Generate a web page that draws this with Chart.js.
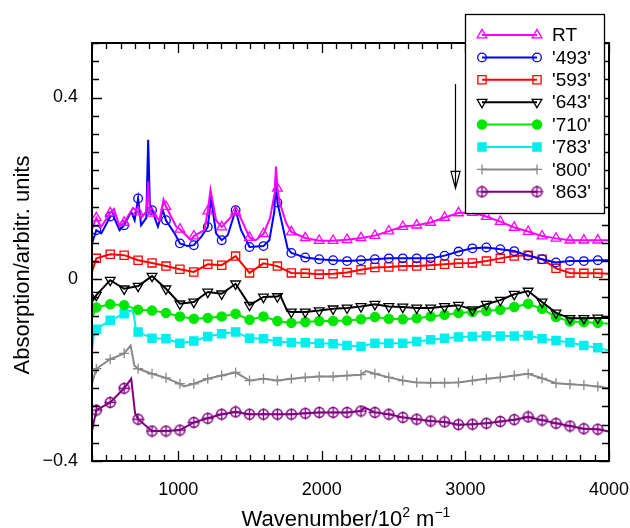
<!DOCTYPE html>
<html>
<head>
<meta charset="utf-8">
<script src="https://cdn.jsdelivr.net/npm/chart.js@4.4.0/dist/chart.umd.min.js"></script>
<style>
  html, body { margin: 0; padding: 0; background: #fff; }
  #wrap { width: 630px; height: 528px; }
</style>
</head>
<body>
<div id="wrap"><canvas id="chart"></canvas></div>
<script>
// marker positions (wavenumber) shared by all spectra
const markX = [430, 527, 624, 721, 818, 915, 1012, 1109, 1206, 1303, 1400, 1497, 1594, 1691, 1788, 1885, 1982, 2079, 2176, 2273, 2370, 2467, 2564, 2661, 2758, 2855, 2952, 3049, 3146, 3243, 3340, 3437, 3534, 3631, 3728, 3825, 3922];

const labels = ['RT', "'493'", "'593'", "'643'", "'710'", "'783'", "'800'", "'863'"];

// values at markers, plus extra points for peaks / ends of each line
const rtMarks = [0.135, 0.146, 0.125, 0.148, 0.145, 0.16, 0.11, 0.095, 0.15, 0.115, 0.148, 0.092, 0.1, 0.2, 0.104, 0.091, 0.085, 0.085, 0.087, 0.091, 0.096, 0.106, 0.116, 0.119, 0.125, 0.136, 0.146, 0.147, 0.138, 0.127, 0.114, 0.105, 0.095, 0.09, 0.086, 0.086, 0.086];
const rtExtra = [[400, 0.112], [463, 0.115], [553, 0.155], [592, 0.116], [685, 0.157], [743, 0.135], [780, 0.15], [791, 0.215], [802, 0.15], [870, 0.13], [898, 0.175], [986, 0.116], [1090, 0.086], [1183, 0.108], [1225, 0.197], [1264, 0.13], [1426, 0.141], [1540, 0.086], [1640, 0.135], [1672, 0.19], [1681, 0.248], [1706, 0.17], [1753, 0.123], [4000, 0.086]];

const b493Marks = [0.108, 0.138, 0.119, 0.178, 0.152, 0.13, 0.079, 0.075, 0.115, 0.086, 0.152, 0.071, 0.073, 0.169, 0.058, 0.048, 0.044, 0.042, 0.04, 0.042, 0.044, 0.046, 0.046, 0.046, 0.046, 0.052, 0.061, 0.068, 0.07, 0.066, 0.062, 0.052, 0.044, 0.037, 0.04, 0.04, 0.042];
const b493Extra = [[400, 0.079], [465, 0.101], [546, 0.141], [592, 0.108], [673, 0.149], [697, 0.13], [742, 0.119], [778, 0.135], [791, 0.307], [803, 0.165], [859, 0.116], [893, 0.152], [975, 0.101], [1067, 0.073], [1160, 0.093], [1229, 0.178], [1264, 0.101], [1345, 0.097], [1438, 0.108], [1635, 0.086], [1670, 0.15], [1678, 0.219], [1762, 0.068], [4000, 0.042]];

const b593Marks = [0.046, 0.055, 0.053, 0.042, 0.036, 0.029, 0.022, 0.016, 0.033, 0.031, 0.051, 0.014, 0.035, 0.029, 0.014, 0.013, 0.011, 0.012, 0.015, 0.021, 0.026, 0.027, 0.029, 0.029, 0.031, 0.033, 0.035, 0.036, 0.04, 0.046, 0.051, 0.053, 0.044, 0.024, 0.014, 0.013, 0.013];
const b593Extra = [[400, 0.016], [4000, 0.012]];

const b643Marks = [-0.035, -0.002, -0.021, -0.015, 0.007, -0.021, -0.054, -0.05, -0.028, -0.032, -0.01, -0.057, -0.039, -0.038, -0.072, -0.072, -0.069, -0.065, -0.063, -0.06, -0.055, -0.06, -0.061, -0.063, -0.063, -0.06, -0.057, -0.067, -0.055, -0.046, -0.033, -0.026, -0.05, -0.074, -0.086, -0.086, -0.085];
const b643Extra = [[400, -0.05], [1710, -0.035], [1760, -0.07], [4000, -0.085]];

const b710Marks = [-0.062, -0.055, -0.057, -0.067, -0.069, -0.074, -0.082, -0.087, -0.085, -0.082, -0.076, -0.089, -0.082, -0.092, -0.096, -0.094, -0.092, -0.092, -0.091, -0.088, -0.083, -0.087, -0.088, -0.086, -0.082, -0.078, -0.074, -0.072, -0.07, -0.067, -0.061, -0.054, -0.065, -0.083, -0.093, -0.094, -0.096];
const b710Extra = [[400, -0.085], [4000, -0.098]];

const b783Marks = [-0.11, -0.09, -0.076, -0.116, -0.13, -0.131, -0.141, -0.136, -0.126, -0.12, -0.116, -0.13, -0.131, -0.137, -0.139, -0.14, -0.141, -0.142, -0.146, -0.148, -0.141, -0.141, -0.141, -0.137, -0.133, -0.13, -0.127, -0.126, -0.125, -0.125, -0.125, -0.124, -0.131, -0.135, -0.139, -0.146, -0.151];
const b783Extra = [[400, -0.157], [412, -0.125], [676, -0.068], [692, -0.08], [705, -0.11], [4000, -0.157]];

const b800Marks = [-0.197, -0.176, -0.163, -0.197, -0.208, -0.217, -0.23, -0.23, -0.219, -0.212, -0.205, -0.223, -0.219, -0.223, -0.219, -0.216, -0.214, -0.214, -0.212, -0.21, -0.208, -0.216, -0.223, -0.227, -0.228, -0.228, -0.227, -0.223, -0.219, -0.216, -0.212, -0.208, -0.218, -0.229, -0.231, -0.233, -0.236];
const b800Extra = [[400, -0.23], [669, -0.146], [695, -0.19], [1040, -0.236], [2309, -0.202], [4000, -0.24]];

const b863Marks = [-0.288, -0.271, -0.24, -0.308, -0.334, -0.334, -0.332, -0.315, -0.306, -0.297, -0.292, -0.297, -0.297, -0.297, -0.297, -0.295, -0.293, -0.293, -0.293, -0.29, -0.293, -0.297, -0.304, -0.308, -0.312, -0.314, -0.32, -0.319, -0.317, -0.313, -0.309, -0.303, -0.31, -0.317, -0.323, -0.329, -0.33];
const b863Extra = [[400, -0.334], [673, -0.219], [700, -0.295], [2297, -0.282], [4000, -0.335]];

// arrow annotation (data units)
const arrowX = 2925;
const arrowFrom = 0.43;
const arrowTo = 0.2;

const FONT = '"Liberation Sans", Arial, Helvetica, sans-serif';

function buildPoints(marks, extra) {
  const pts = markX.map((x, i) => ({ x: x, y: marks[i], m: true }));
  extra.forEach(([x, y]) => pts.push({ x: x, y: y, m: false }));
  return pts.sort((a, b) => a.x - b.x);
}

// circle with a plus inside, for '863'
function circlePlus(color) {
  const c = document.createElement('canvas');
  c.width = 13; c.height = 13;
  const g = c.getContext('2d');
  g.strokeStyle = color;
  g.lineWidth = 1.3;
  g.beginPath(); g.arc(6.5, 6.5, 5, 0, Math.PI * 2); g.stroke();
  g.beginPath(); g.moveTo(6.5, 0.5); g.lineTo(6.5, 12.5); g.moveTo(0.5, 6.5); g.lineTo(12.5, 6.5); g.stroke();
  return c;
}

const styles = [
  { color: '#ff00ff', pointStyle: 'triangle', radius: 5.6, rotation: 0, fill: false },
  { color: '#0000ff', pointStyle: 'circle', radius: 4.3, rotation: 0, fill: false },
  { color: '#ff0000', pointStyle: 'rect', radius: 5.8, rotation: 0, fill: false },
  { color: '#000000', pointStyle: 'triangle', radius: 5.6, rotation: 180, fill: false },
  { color: '#00e600', pointStyle: 'circle', radius: 4.6, rotation: 0, fill: true },
  { color: '#00eeee', pointStyle: 'rect', radius: 5.8, rotation: 0, fill: true },
  { color: '#888888', pointStyle: 'cross', radius: 5, rotation: 0, fill: false },
  { color: '#800080', pointStyle: circlePlus('#800080'), radius: 6, rotation: 0, fill: false }
];

const series = [
  buildPoints(rtMarks, rtExtra),
  buildPoints(b493Marks, b493Extra),
  buildPoints(b593Marks, b593Extra),
  buildPoints(b643Marks, b643Extra),
  buildPoints(b710Marks, b710Extra),
  buildPoints(b783Marks, b783Extra),
  buildPoints(b800Marks, b800Extra),
  buildPoints(b863Marks, b863Extra)
];

const datasets = series.map((pts, i) => {
  const s = styles[i];
  return {
    label: labels[i],
    data: pts,
    borderColor: s.color,
    backgroundColor: s.fill ? s.color : 'rgba(0,0,0,0)',
    borderWidth: 2,
    tension: 0,
    pointStyle: s.pointStyle,
    pointRotation: s.rotation,
    pointBorderWidth: 1.3,
    pointBorderColor: s.color,
    pointBackgroundColor: s.fill ? s.color : 'rgba(0,0,0,0)',
    pointRadius: ctx => (ctx.raw && ctx.raw.m ? s.radius : 0),
    pointHoverRadius: 0
  };
});

// inward ticks and frame on all four sides
const framePlugin = {
  id: 'frame',
  afterDatasetsDraw(chart) {
    const { ctx, chartArea: a, scales: { x, y } } = chart;
    ctx.save();
    ctx.strokeStyle = '#000';
    ctx.lineWidth = 1.3;
    ctx.beginPath();
    x.ticks.forEach(t => {
      const px = Math.round(x.getPixelForValue(t.value)) + 0.5;
      const len = t.value % 1000 === 0 ? 10 : 6;
      ctx.moveTo(px, a.bottom); ctx.lineTo(px, a.bottom - len);
      ctx.moveTo(px, a.top); ctx.lineTo(px, a.top + len);
    });
    y.ticks.forEach(t => {
      const py = Math.round(y.getPixelForValue(t.value)) + 0.5;
      const len = t.label ? 10 : 7;
      ctx.moveTo(a.left, py); ctx.lineTo(a.left + len, py);
      ctx.moveTo(a.right, py); ctx.lineTo(a.right - len, py);
    });
    ctx.stroke();
    ctx.lineWidth = 2;
    ctx.strokeRect(a.left, a.top, a.right - a.left, a.bottom - a.top);
    ctx.restore();
  }
};

// legend box, arrow and axis titles
const overlayPlugin = {
  id: 'overlay',
  afterDraw(chart) {
    const { ctx, scales: { x, y } } = chart;
    ctx.save();

    // arrow
    const ax = Math.round(x.getPixelForValue(arrowX)) + 0.5;
    const ay0 = y.getPixelForValue(arrowFrom);
    const ay1 = y.getPixelForValue(arrowTo);
    ctx.strokeStyle = '#000';
    ctx.lineWidth = 1.2;
    ctx.beginPath();
    ctx.moveTo(ax, ay0); ctx.lineTo(ax, ay1);
    ctx.moveTo(ax - 4.5, ay1 - 17); ctx.lineTo(ax + 4.5, ay1 - 17); ctx.lineTo(ax, ay1); ctx.closePath();
    ctx.stroke();

    // legend
    const bx = 465.5, by = 14.5, bw = 139, bh = 199;
    ctx.fillStyle = '#fff';
    ctx.fillRect(bx, by, bw, bh);
    ctx.lineWidth = 1.3;
    ctx.strokeStyle = '#000';
    ctx.strokeRect(bx, by, bw, bh);
    ctx.font = '19px ' + FONT;
    ctx.textBaseline = 'middle';
    ctx.textAlign = 'left';
    labels.forEach((lab, i) => {
      const s = styles[i];
      const ry = 35 + i * 22.4;
      ctx.strokeStyle = s.color;
      ctx.lineWidth = 2;
      ctx.beginPath(); ctx.moveTo(482, ry); ctx.lineTo(537, ry); ctx.stroke();
      ctx.lineWidth = 1.3;
      ctx.fillStyle = s.fill ? s.color : 'rgba(0,0,0,0)';
      const opts = { pointStyle: s.pointStyle, radius: s.radius, rotation: s.rotation, borderWidth: 1.3 };
      Chart.helpers.drawPoint(ctx, opts, 482, ry);
      Chart.helpers.drawPoint(ctx, opts, 537, ry);
      ctx.fillStyle = '#000';
      ctx.fillText(lab, 552, ry + 1);
    });

    // y title
    ctx.fillStyle = '#000';
    ctx.save();
    ctx.translate(29, 265);
    ctx.rotate(-Math.PI / 2);
    ctx.textAlign = 'center';
    ctx.textBaseline = 'alphabetic';
    ctx.font = '22px ' + FONT;
    ctx.fillText('Absorption/arbitr. units', 0, 0);
    ctx.restore();

    // x title with superscripts
    const parts = [['Wavenumber/10', 22, 0], ['2', 14, -9], [' m', 22, 0], ['\u22121', 14, -9]];
    let total = 0;
    parts.forEach(p => { ctx.font = p[1] + 'px ' + FONT; total += ctx.measureText(p[0]).width; });
    let cx = 346 - total / 2;
    ctx.textAlign = 'left';
    ctx.textBaseline = 'alphabetic';
    parts.forEach(p => {
      ctx.font = p[1] + 'px ' + FONT;
      ctx.fillText(p[0], cx, 526 + p[2]);
      cx += ctx.measureText(p[0]).width;
    });
    ctx.restore();
  }
};

Chart.defaults.font.family = FONT;
Chart.defaults.font.size = 18;
Chart.defaults.color = '#000';

new Chart(document.getElementById('chart'), {
  type: 'line',
  data: { datasets },
  options: {
    responsive: true,
    maintainAspectRatio: false,
    animation: false,
    events: [],
    layout: { padding: { top: 43, right: 21, left: 0, bottom: 0 } },
    plugins: { legend: { display: false }, tooltip: { enabled: false } },
    scales: {
      x: {
        type: 'linear',
        min: 400,
        max: 4000,
        afterFit: s => { s.height = 67; s.paddingLeft = 0; s.paddingRight = 0; },
        grid: { display: false, drawTicks: false },
        border: { display: false },
        ticks: {
          stepSize: 100,
          autoSkip: false,
          maxRotation: 0,
          padding: 18,
          callback: v => (v % 1000 === 0 ? String(v) : '')
        }
      },
      y: {
        min: -0.4,
        max: 0.52,
        afterFit: s => { s.width = 92; s.paddingTop = 0; s.paddingBottom = 0; },
        grid: { display: false, drawTicks: false },
        border: { display: false },
        ticks: {
          stepSize: 0.04,
          autoSkip: false,
          padding: 14,
          callback: v => {
            if (Math.abs(v - 0.4) < 1e-6) return '0.4';
            if (Math.abs(v) < 1e-6) return '0';
            if (Math.abs(v + 0.4) < 1e-6) return '\u22120.4';
            return '';
          }
        }
      }
    }
  },
  plugins: [framePlugin, overlayPlugin]
});
</script>
</body>
</html>
